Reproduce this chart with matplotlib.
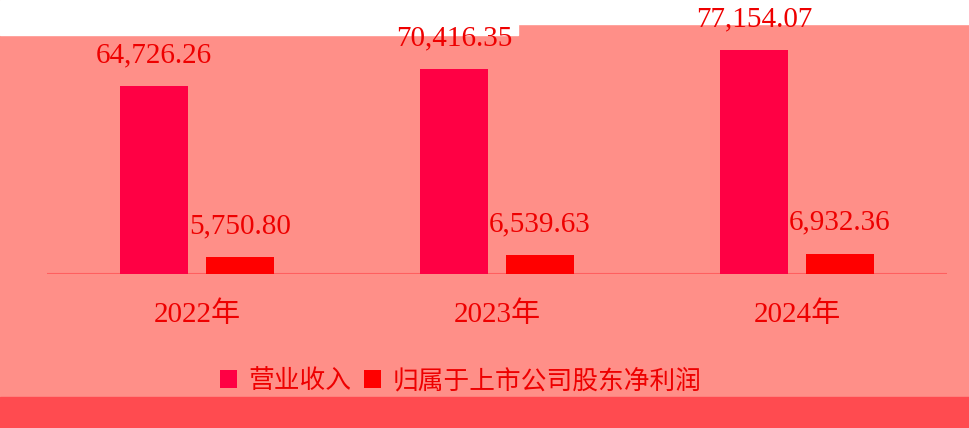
import matplotlib; matplotlib.use("Agg")
import matplotlib.pyplot as plt
from matplotlib.patches import Rectangle
import numpy as np

years = ["2022年", "2023年", "2024年"]
revenue = [64726.26, 70416.35, 77154.07]
net_profit = [5750.80, 6539.63, 6932.36]
series_names = ["营业收入", "归属于上市公司股东净利润"]

BG, TXT = "#FF8F88", "#EE0000"
C_REV, C_NP = "#FF0044", "#FF0000"
W, OFF = 0.227, 0.143
PX = 0.72  # points per pixel at dpi 100

fig = plt.figure(figsize=(9.7, 4.28), dpi=100, facecolor=BG)
# white strip on top (a bit deeper on the left), red strip at the bottom
for x0, w, h in ((0, 518 / 970, 35 / 428), (518 / 970, 452 / 970, 24 / 428)):
    fig.patches.append(Rectangle((x0, 1 - h), w, h, transform=fig.transFigure,
                                 color="white", zorder=-5))
fig.patches.append(Rectangle((0, 0), 1, 31 / 428, transform=fig.transFigure,
                             color="#FF4B50", zorder=-5))

ax = fig.add_axes([47 / 970, (428 - 274) / 428, 900 / 970, 244 / 428])
ax.set_facecolor("none")
x = np.arange(len(years))
ax.bar(x - OFF, revenue, W, color=C_REV, label=series_names[0], zorder=2)
ax.bar(x + OFF, net_profit, W, color=C_NP, label=series_names[1], zorder=2)
ax.axhline(0, color="#FF5F5F", lw=1.5, zorder=1)
ax.set_xlim(-0.5, 2.5)
ax.set_ylim(0, 84000)
ax.axis("off")

num_font = dict(family=["Liberation Serif", "DejaVu Serif"], fontsize=21, color=TXT)
for xs, vals in ((x - OFF, revenue), (x + OFF, net_profit)):
    for xi, v in zip(xs, vals):
        ax.annotate(f"{v:,.2f}", (xi, v), xytext=(0, 24 * PX), textcoords="offset points",
                    ha="center", va="baseline", annotation_clip=False, **num_font)

for xi, yr in zip(x, years):
    ax.annotate(yr, (xi, 0), xycoords=("data", "axes fraction"), xytext=(0, -48 * PX),
                textcoords="offset points", ha="center", va="baseline", fontsize=21,
                color=TXT, family=["Liberation Serif", "Noto Sans CJK SC"],
                annotation_clip=False)

fig.legend(loc="center", bbox_to_anchor=(461 / 970, 1 - 381 / 428), ncol=2, frameon=False,
           handlelength=0.65, handleheight=0.65, handletextpad=0.45, columnspacing=0.5,
           prop=dict(family=["Noto Sans CJK SC", "DejaVu Sans"], size=18.5), labelcolor=TXT)

fig.savefig("out.png", dpi=100, facecolor=BG)
